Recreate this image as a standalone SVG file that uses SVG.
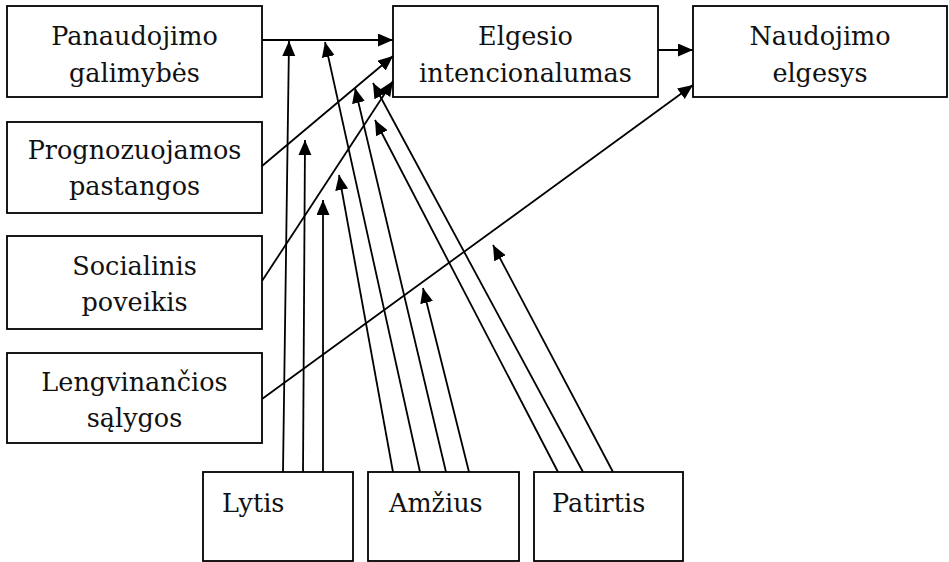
<svg xmlns="http://www.w3.org/2000/svg" width="949" height="562" viewBox="0 0 949 562">
<style>
.box{fill:#fff;stroke:#000;stroke-width:1.8}
.c{text-anchor:middle}
.t{font-family:"DejaVu Serif","Liberation Serif",serif;font-size:25.5px;fill:#111}
.ln{stroke:#000;stroke-width:1.8;fill:none;marker-end:url(#ah)}
</style>
<defs>
<marker id="ah" markerUnits="userSpaceOnUse" markerWidth="17" markerHeight="15" refX="15" refY="6.5" orient="auto">
<path d="M0,0 L15,6.5 L0,13 z" fill="#000"/>
</marker>
</defs>
<rect width="949" height="562" fill="#fff"/>
<g id="n-panaudojimo"><rect class="box" x="7" y="6" width="255" height="91"/><text class="t c" x="134.5" y="45">Panaudojimo</text><text class="t c" x="134.5" y="82">galimybės</text></g>
<g id="n-prognozuojamos"><rect class="box" x="7" y="122" width="255" height="91"/><text class="t c" x="134.5" y="159">Prognozuojamos</text><text class="t c" x="134.5" y="195">pastangos</text></g>
<g id="n-socialinis"><rect class="box" x="7" y="236" width="255" height="93"/><text class="t c" x="134.5" y="275">Socialinis</text><text class="t c" x="134.5" y="311">poveikis</text></g>
<g id="n-lengvinancios"><rect class="box" x="7" y="353" width="255" height="90"/><text class="t c" x="134.5" y="391">Lengvinančios</text><text class="t c" x="134.5" y="427">sąlygos</text></g>
<g id="n-elgesio"><rect class="box" x="393" y="6" width="265" height="91"/><text class="t c" x="525.5" y="45">Elgesio</text><text class="t c" x="525.5" y="82">intencionalumas</text></g>
<g id="n-naudojimo"><rect class="box" x="693" y="6" width="254" height="91"/><text class="t c" x="820" y="45">Naudojimo</text><text class="t c" x="820" y="82">elgesys</text></g>
<g id="n-lytis"><rect class="box" x="203" y="472" width="150" height="89"/><text class="t" x="222" y="512">Lytis</text></g>
<g id="n-amzius"><rect class="box" x="368" y="472" width="151" height="89"/><text class="t" x="389" y="512">Amžius</text></g>
<g id="n-patirtis"><rect class="box" x="534" y="472" width="149" height="89"/><text class="t" x="552" y="512">Patirtis</text></g>
<g id="connectors">
<line class="ln" x1="262" y1="40" x2="393" y2="40"/>
<line class="ln" x1="658" y1="50" x2="693" y2="50"/>
<line class="ln" x1="262" y1="166" x2="393" y2="56"/>
<line class="ln" x1="262" y1="281" x2="393" y2="81"/>
<line class="ln" x1="262" y1="399" x2="693" y2="85"/>
<line class="ln" x1="283" y1="472" x2="289" y2="41"/>
<line class="ln" x1="303" y1="472" x2="305" y2="140"/>
<line class="ln" x1="323" y1="472" x2="323" y2="200"/>
<line class="ln" x1="393" y1="472" x2="339" y2="175"/>
<line class="ln" x1="420" y1="472" x2="325" y2="42"/>
<line class="ln" x1="446" y1="472" x2="355" y2="88"/>
<line class="ln" x1="469" y1="472" x2="423" y2="288"/>
<line class="ln" x1="558" y1="472" x2="375" y2="120"/>
<line class="ln" x1="583" y1="472" x2="373" y2="83"/>
<line class="ln" x1="613" y1="472" x2="493" y2="245"/>
</g>
</svg>
